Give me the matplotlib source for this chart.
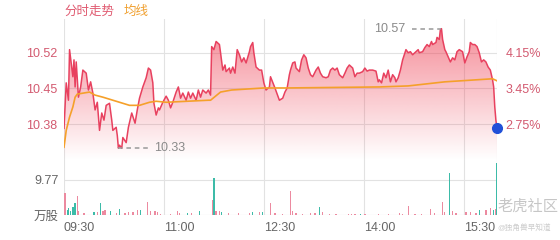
import numpy as np
import matplotlib
matplotlib.use('Agg')
import matplotlib.pyplot as plt

plt.rcParams['font.family'] = ['Liberation Sans', 'Noto Sans CJK SC', 'DejaVu Sans']

# 分时数据：分钟（从 09:30 起）和价格
t_price = [0, 2, 4, 5, 8, 9, 10, 11, 13, 15, 17, 20, 22, 24, 26, 28, 30, 32, 34, 36,
           38, 41, 43, 44, 47, 48, 49, 50, 52, 53, 56, 58, 61, 64, 66, 68, 71, 74, 76, 78,
           80, 81, 83, 85, 86, 89, 92, 94, 96, 98, 101, 103, 105, 107, 110, 112, 114, 116, 119, 121,
           123, 125, 128, 130, 132, 133, 135, 137, 140, 141, 143, 145, 146, 149, 150, 152, 154, 156, 158, 160,
           162, 164, 167, 168, 170, 171, 173, 176, 178, 180, 182, 185, 186, 190, 193, 194, 197, 199, 201, 203,
           204, 206, 208, 209, 212, 214, 216, 218, 220, 222, 224, 227, 229, 231, 233, 236, 238, 240, 242, 244,
           246, 248, 251, 253, 255, 257, 260, 262, 264, 266, 269, 271, 273, 275, 278, 281, 283, 284, 286, 288,
           290, 292, 294, 296, 298, 299, 301, 303, 305, 308, 310, 312, 314, 317, 319, 320, 323, 325, 327, 329,
           331, 332, 335, 336, 338, 339, 340, 341, 343, 344, 346, 348, 350, 352, 354, 356, 359, 361, 363, 365,
           366, 368, 370, 372, 374, 376, 378, 380, 382, 384, 386, 387, 388, 389, 390]
price = [10.372, 10.461, 10.427, 10.526, 10.473, 10.506, 10.453, 10.502, 10.433, 10.453,
         10.486, 10.480, 10.447, 10.463, 10.441, 10.408, 10.423, 10.368, 10.402, 10.388,
         10.417, 10.421, 10.388, 10.368, 10.374, 10.358, 10.333, 10.339, 10.333, 10.354,
         10.344, 10.374, 10.402, 10.382, 10.408, 10.431, 10.453, 10.471, 10.490, 10.486,
         10.461, 10.421, 10.398, 10.412, 10.408, 10.423, 10.435, 10.427, 10.412, 10.423,
         10.443, 10.453, 10.431, 10.441, 10.427, 10.443, 10.431, 10.441, 10.427, 10.447,
         10.433, 10.447, 10.441, 10.447, 10.437, 10.532, 10.526, 10.542, 10.536, 10.520,
         10.486, 10.496, 10.483, 10.490, 10.480, 10.492, 10.480, 10.526, 10.516, 10.502,
         10.510, 10.500, 10.522, 10.532, 10.540, 10.520, 10.492, 10.486, 10.486, 10.461,
         10.447, 10.453, 10.473, 10.451, 10.433, 10.427, 10.431, 10.443, 10.451, 10.477,
         10.486, 10.500, 10.502, 10.490, 10.483, 10.506, 10.516, 10.510, 10.490, 10.477,
         10.473, 10.486, 10.492, 10.480, 10.473, 10.471, 10.473, 10.486, 10.490, 10.486,
         10.490, 10.477, 10.471, 10.480, 10.490, 10.496, 10.490, 10.473, 10.480, 10.480,
         10.483, 10.490, 10.484, 10.486, 10.486, 10.484, 10.463, 10.467, 10.461, 10.480,
         10.471, 10.486, 10.463, 10.477, 10.471, 10.463, 10.471, 10.486, 10.506, 10.526,
         10.520, 10.522, 10.516, 10.522, 10.526, 10.520, 10.522, 10.530, 10.536, 10.532,
         10.542, 10.536, 10.540, 10.550, 10.546, 10.565, 10.567, 10.546, 10.526, 10.522,
         10.512, 10.502, 10.510, 10.506, 10.522, 10.526, 10.522, 10.500, 10.512, 10.522,
         10.540, 10.536, 10.536, 10.532, 10.520, 10.502, 10.506, 10.502, 10.492, 10.486,
         10.467, 10.453, 10.414, 10.388, 10.372]

# 均线
t_avg = [0, 2, 5, 8, 10, 12, 23, 28, 35, 44, 53, 59, 68, 77, 83, 92, 130, 132, 141, 151,
         180, 200, 284, 310, 343, 386, 390]
avg = [10.335, 10.368, 10.394, 10.414, 10.433, 10.439, 10.443, 10.437, 10.433, 10.427,
       10.421, 10.417, 10.417, 10.423, 10.425, 10.423, 10.427, 10.427, 10.443, 10.447,
       10.451, 10.451, 10.453, 10.455, 10.463, 10.469, 10.465]

# 成交量（万股），1=红 0=绿
t_vol = [1, 3, 4, 6, 8, 10, 12, 13, 18, 27, 30, 33, 35, 37, 42, 47, 50, 55, 58, 62,
         66, 69, 75, 78, 82, 84, 87, 96, 102, 104, 111, 115, 122, 134, 135, 137, 140, 142, 148, 157,
         167, 170, 176, 179, 186, 190, 197, 204, 206, 209, 215, 222, 226, 230, 233, 239, 245, 256, 259, 262,
         267, 271, 283, 292, 302, 305, 310, 316, 322, 330, 334, 341, 343, 347, 350, 353, 362, 366, 371, 374,
         380, 384, 387, 389, 390]
vol = [6.1, 1.4, 1.9, 1.0, 2.3, 3.3, 5.3, 1.2, 0.5, 0.8, 0.8, 3.3, 1.2, 1.3, 1.0, 0.5, 1.6, 0.5, 0.8, 0.8,
       1.3, 1.3, 3.5, 1.2, 1.0, 0.7, 0.4, 0.4, 1.0, 0.5, 0.5, 0.5, 1.0, 4.2, 10.2, 1.2, 1.0, 0.8, 0.5, 0.5,
       0.5, 0.8, 0.8, 0.8, 3.3, 0.5, 0.4, 6.8, 1.0, 0.5, 0.4, 0.5, 0.5, 2.1, 0.8, 0.3, 0.3, 0.3, 0.3, 0.3,
       0.3, 0.4, 0.3, 0.4, 0.6, 0.4, 2.5, 0.4, 0.4, 1.6, 0.6, 3.5, 0.8, 11.6, 1.0, 0.6, 0.8, 0.8, 0.6, 1.3,
       1.3, 2.0, 1.3, 1.8, 14.4]
vol_up = [1, 0, 0, 0, 0, 0, 1, 1, 1, 0, 1, 0, 1, 1, 0, 1, 0, 1, 1, 1,
          1, 0, 1, 1, 1, 1, 1, 1, 1, 1, 0, 1, 0, 1, 0, 1, 1, 0, 1, 1,
          1, 0, 1, 0, 1, 1, 1, 1, 1, 1, 1, 1, 1, 0, 1, 1, 1, 1, 1, 1,
          0, 1, 1, 1, 1, 1, 1, 1, 1, 1, 1, 1, 1, 0, 1, 1, 1, 1, 1, 0,
          1, 1, 0, 1, 0]

time_ticks = [0, 90, 180, 270, 360]
time_labels = ['09:30', '11:00', '12:30', '14:00', '15:30']
price_ticks = [10.52, 10.45, 10.38]
pct_labels = ['4.15%', '3.45%', '2.75%']
vol_tick = 9.77

red = '#e8415f'
orange = '#f5a02a'
green = '#3dbba8'
pink = '#ec8aa0'
grid_c = '#e2e2e2'
label_red = '#d35a70'
gray = '#666666'

fig = plt.figure(figsize=(5.6, 2.4), dpi=100)
W, H = 560, 240
x0, x1 = 64, 497
ax_p = fig.add_axes([x0 / W, 1 - 160 / H, (x1 - x0) / W, 141 / H])
ax_v = fig.add_axes([x0 / W, 1 - 215 / H, (x1 - x0) / W, 55 / H])

p_lo, p_hi = 10.310, 10.586
t = np.array(t_price)
p = np.array(price)

# 渐变填充
poly = ax_p.fill_between(t, p, p_lo, color='none', lw=0)
grad = np.zeros((200, 1, 4))
grad[:, 0, 0] = 238 / 255
grad[:, 0, 1] = 60 / 255
grad[:, 0, 2] = 80 / 255
grad[:, 0, 3] = np.linspace(0.62, 0.0, 200)
im = ax_p.imshow(grad, extent=[0, 390, p_lo, p_hi], aspect='auto', origin='upper', zorder=1)
im.set_clip_path(poly.get_paths()[0], transform=ax_p.transData)

ax_p.plot(t, p, color=red, lw=1.1, zorder=3)
ax_p.plot(t_avg, avg, color=orange, lw=1.2, zorder=4)
ax_p.plot(t[-1], p[-1], 'o', color='#2150d8', ms=7, zorder=6, clip_on=False)

# 最高 / 最低标注
imin = int(np.argmin(p))
imax = int(np.argmax(p))
ax_p.plot([t[imin], t[imin] + 27], [p[imin]] * 2, color='#999999', lw=1.1, ls=(0, (3, 2.5)), zorder=5)
ax_p.text(t[imin] + 32, p[imin], f'{p[imin]:.2f}', color='#8a8a8a', fontsize=9, va='center', ha='left')
ax_p.plot([t[imax] - 27, t[imax]], [p[imax]] * 2, color='#999999', lw=1.1, ls=(0, (3, 2.5)), zorder=5)
ax_p.text(t[imax] - 33, p[imax], f'{p[imax]:.2f}', color='#8a8a8a', fontsize=9, va='center', ha='right')

ax_p.set_xlim(0, 390)
ax_p.set_ylim(p_lo, p_hi)
ax_p.set_yticks(price_ticks)
ax_p.set_yticklabels([f'{v:.2f}' for v in price_ticks], color=label_red, fontsize=9)
ax_p.set_xticks([])
for v in price_ticks:
    ax_p.axhline(v, color=grid_c, lw=0.8, zorder=0)
for v in time_ticks + [390]:
    ax_p.axvline(v, color=grid_c, lw=0.8, zorder=0)
ax_p.tick_params(length=0, pad=5)
for s in ax_p.spines.values():
    s.set_visible(False)

ax_r = ax_p.twinx()
ax_r.set_ylim(p_lo, p_hi)
ax_r.set_yticks(price_ticks)
ax_r.set_yticklabels(pct_labels, color=label_red, fontsize=9)
ax_r.tick_params(length=0, pad=6)
for s in ax_r.spines.values():
    s.set_visible(False)

# 成交量
colors = [pink if u else green for u in vol_up]
ax_v.bar(t_vol, vol, width=1.2, color=colors, zorder=3)
ax_v.set_xlim(0, 390)
ax_v.set_ylim(0, vol_tick * 55 / 35)
ax_v.axhline(vol_tick, color=grid_c, lw=0.8, zorder=0)
ax_v.axhline(0, color='#d8d8d8', lw=0.8, zorder=0)
for v in time_ticks + [390]:
    ax_v.axvline(v, color=grid_c, lw=0.8, zorder=0)
ax_v.set_yticks([0, vol_tick])
ax_v.set_yticklabels(['万股', f'{vol_tick:.2f}'], color=gray, fontsize=9)
ax_v.set_xticks(time_ticks)
ax_v.set_xticklabels(time_labels, color=gray, fontsize=9, ha='left')
ax_v.tick_params(length=0, pad=4)
ax_v.tick_params(axis='x', pad=5)
for s in ax_v.spines.values():
    s.set_visible(False)

# 图例文字
fig.text(64 / W, 1 - 12 / H, '分时走势', color='#e05a70', fontsize=9, va='center', ha='left')
fig.text(124 / W, 1 - 12 / H, '均线', color='#f0a030', fontsize=9, va='center', ha='left')

# 水印
fig.text(498 / W, 1 - 207 / H, '老虎社区', color='#b8b8b8', fontsize=11, va='center', ha='left', alpha=0.8)
fig.text(497 / W, 1 - 229 / H, '@独角兽早知道', color='#c0c0c0', fontsize=5.5, va='center', ha='left', alpha=0.8)

fig.savefig('out.png', dpi=100)
